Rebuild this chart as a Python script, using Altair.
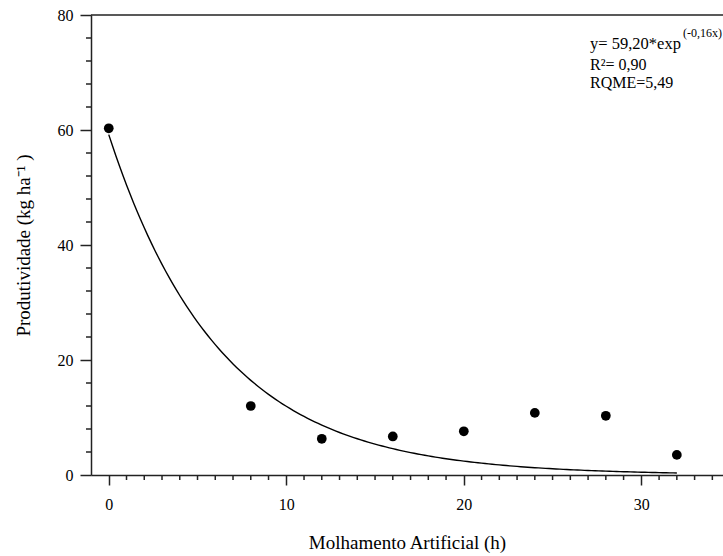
import altair as alt
import pandas as pd

# Observed data
molhamento = [0, 8, 12, 16, 20, 24, 28, 32]
produtividade = [60.3, 12.0, 6.3, 6.7, 7.6, 10.8, 10.3, 3.5]

# Fitted model coefficients (from the chart's annotation)
coef_a = 59.20
coef_b = -0.16

# Tick values
x_major = [0, 10, 20, 30]
x_minor = [v for v in range(1, 35) if v % 10 != 0]
y_major = [0, 20, 40, 60, 80]
y_minor = [v for v in range(4, 80, 4) if v % 20 != 0]

# Annotation texts
eq_main = "y= 59,20*exp"
eq_sup = "(-0,16x)"
r2_text = "R²= 0,90"
rqme_text = "RQME=5,49"

W, H = 632, 460
FONT = "Liberation Serif"
AX = "#222222"

pts = pd.DataFrame({"x": molhamento, "y": produtividade})
xscale = alt.Scale(domain=[-1, 34.6], nice=False, zero=False)
yscale = alt.Scale(domain=[0, 80], nice=False)

xaxis = alt.Axis(values=x_major, tickSize=10, labelPadding=11, title="Molhamento Artificial (h)",
                 titlePadding=21)
yaxis = alt.Axis(values=y_major, tickSize=11, labelPadding=7, title="Produtividade (kg ha⁻¹ )",
                 titlePadding=24)

X = lambda f: alt.X(f, scale=xscale, axis=xaxis)
Y = lambda f: alt.Y(f, scale=yscale, axis=yaxis)

points = alt.Chart(pts).mark_point(filled=True, size=95, color="black", opacity=1).encode(
    x=X("x:Q"), y=Y("y:Q"),
)

curve = alt.Chart(alt.sequence(0, 32.01, 0.2, as_="x")).transform_calculate(
    y=f"{coef_a} * exp({coef_b} * datum.x)"
).mark_line(color="black", strokeWidth=1.4).encode(
    x=X("x:Q"), y=Y("y:Q"),
)

xminor = alt.Chart(pd.DataFrame({"x": x_minor})).mark_rule(color=AX, strokeWidth=1.5).encode(
    x=X("x:Q"),
    y=alt.value(H), y2=alt.value(H + 5),
)
yminor = alt.Chart(pd.DataFrame({"y": y_minor})).mark_rule(color=AX, strokeWidth=1.5).encode(
    y=Y("y:Q"),
    x=alt.value(-5), x2=alt.value(0),
)

top = alt.Chart(pd.DataFrame({"a": [0]})).mark_rule(color=AX, strokeWidth=1.5).encode(
    x=alt.value(0), x2=alt.value(W), y=alt.value(0)
)

def label(txt, x, y, size=16):
    return alt.Chart(pd.DataFrame({"t": [txt]})).mark_text(
        align="left", baseline="alphabetic", font=FONT, fontSize=size, color="black"
    ).encode(text="t:N", x=alt.value(x), y=alt.value(y))

ann = [
    label(eq_main, 499, 34, 16.5),
    label(eq_sup, 592, 22, 12),
    label(r2_text, 499, 55),
    label(rqme_text, 499, 73),
]

chart = alt.layer(points, curve, xminor, yminor, top, *ann).properties(
    width=W, height=H,
    autosize=alt.AutoSizeParams(type="none"),
    padding={"left": 91, "top": 15, "right": 0, "bottom": 81},
    background="white",
).configure(font=FONT).configure_view(stroke=None).configure_axis(
    grid=False, tickWidth=1.5, tickColor=AX, domainColor=AX, domainWidth=1.5,
    labelFont=FONT, labelFontSize=16, labelColor="black",
    titleFont=FONT, titleFontSize=19, titleFontWeight="normal", titleColor="black",
)

chart.save("out.html", embed_options={"renderer": "svg", "actions": False})
